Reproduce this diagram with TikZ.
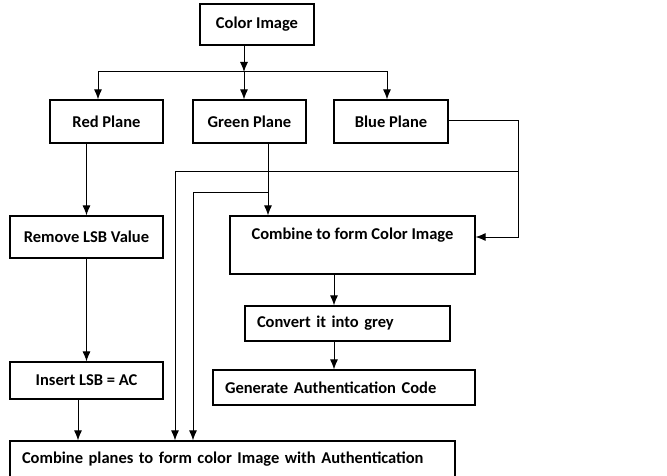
\documentclass[tikz,border=0pt]{standalone}
\usepackage{fontspec}
\setmainfont{Carlito}
\usepackage{tikz}
\usetikzlibrary{arrows.meta}

\begin{document}
\begin{tikzpicture}[x=1pt,y=-1pt,
		box/.style={draw=black, line width=1.2pt, font=\bfseries\fontsize{16.5}{19}\selectfont, inner sep=0pt},
		lbox/.style={box, align=left, inner xsep=12pt},
		arr/.style={-{Latex[length=10pt,width=8pt]}, line width=1pt, black}]
			\useasboundingbox (0,0) rectangle (667,476);
			\node[box, minimum width=114, minimum height=41] (color) at (257,24.5) {Color Image};
			\node[box, minimum width=113, minimum height=43] (red) at (106.5,121.5) {Red Plane};
			\node[box, minimum width=113, minimum height=43] (green) at (249.5,121.5) {Green Plane};
			\node[box, minimum width=114, minimum height=43] (blue) at (391,121.5) {Blue Plane};
			\node[box, minimum width=153, minimum height=42] (remove) at (86.5,237) {Remove LSB Value};
			\node[box, minimum width=245, text height=12pt, text depth=22pt, inner ysep=12pt] (combine) at (352.5,245) {Combine to form Color Image};
			\node[lbox, text width=181, minimum height=35] (convert) at (347.5,323.5) {Convert it into grey};
			\node[lbox, text width=238, minimum height=35] (generate) at (344,387.5) {Generate Authentication Code};
			\node[box, minimum width=153, minimum height=37] (insert) at (86.5,380.5) {Insert LSB = AC};
			\node[lbox, text width=421, minimum height=37] (final) at (232.5,459.5) {Combine planes to form color Image with Authentication};
			
			% split of the colour image
			\coordinate (split) at (244,72);
			\coordinate (rsplit) at (98,72);
			\coordinate (bsplit) at (387,72);
			\draw[arr] (split |- color.south) -- (split);
			\draw[arr] (split) -- (split |- green.north);
			\draw[arr] (split) -- (rsplit) -- (rsplit |- red.north);
			\draw[arr] (split) -- (bsplit) -- (bsplit |- blue.north);
			
			% red plane
			\path [arr] (red.south -| remove.north) edge (remove.north);
			\path [arr] (remove.south) edge (insert.north);
			\coordinate (ins) at (78,0);
			\draw[arr] (ins |- insert.south) -- (ins |- final.north);
			
			% green plane
			\coordinate (gdown) at (268,193);
			\coordinate (gleft) at (193,193);
			\draw[arr] (gdown |- green.south) -- (gdown |- combine.north);
			\draw[arr] (gdown) -- (gleft) -- (gleft |- final.north);
			
			% blue plane
			\coordinate (bturn) at (518,121);
			\coordinate (bin) at (518,237);
			\coordinate (bbranch) at (518,172);
			\coordinate (bleft) at (175,172);
			\draw[arr] (blue.east |- bturn) -- (bturn) -- (bin) -- (combine.east |- bin);
			\draw[arr] (bbranch) -- (bleft) -- (bleft |- final.north);
			
			% grey image and code
			\coordinate (mid) at (334,0);
			\draw[arr] (mid |- combine.south) -- (mid |- convert.north);
			\draw[arr] (mid |- convert.south) -- (mid |- generate.north);
			\end{tikzpicture}
\end{document}
